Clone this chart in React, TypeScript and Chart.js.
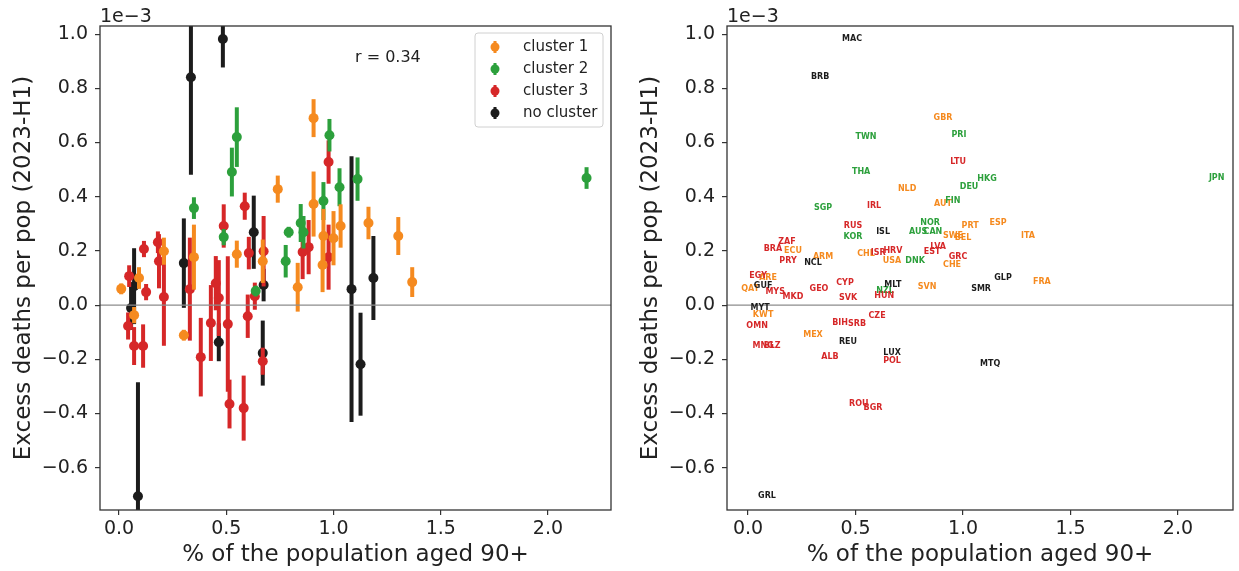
import React, { useEffect, useRef } from "react";
import { Chart, registerables } from "chart.js";

Chart.register(...registerables);

// ---------------- data (y in units of 1e-3) ----------------
const clusterNames = ["cluster 1", "cluster 2", "cluster 3", "no cluster"];
const clusterColors = ["#f58a1f", "#2ca03c", "#d62728", "#1c1c1c"];

const c1Codes = ["GBR", "NLD", "AUT", "PRT", "ESP", "ITA", "SWE", "BEL", "ECU", "CHL", "ARM", "USA", "CHE", "ARE", "QAT", "SVN", "FRA", "KWT", "MEX"];
const c1X = [0.907, 0.74, 0.907, 1.033, 1.163, 1.302, 0.953, 1.0, 0.209, 0.549, 0.349, 0.67, 0.949, 0.093, 0.01, 0.833, 1.367, 0.07, 0.302];
const c1Y = [0.69, 0.428, 0.373, 0.292, 0.303, 0.255, 0.255, 0.247, 0.199, 0.188, 0.177, 0.162, 0.148, 0.1, 0.06, 0.066, 0.085, -0.037, -0.111];
const c1Err = [0.07, 0.05, 0.12, 0.08, 0.06, 0.07, 0.1, 0.1, 0.05, 0.05, 0.12, 0.08, 0.1, 0.04, 0.02, 0.09, 0.055, 0.03, 0.02];

const c2Codes = ["TWN", "PRI", "THA", "HKG", "DEU", "FIN", "SGP", "NOR", "AUS", "CAN", "KOR", "DNK", "NZL", "JPN"];
const c2X = [0.549, 0.981, 0.526, 1.112, 1.028, 0.953, 0.349, 0.847, 0.791, 0.86, 0.488, 0.777, 0.637, 2.18];
const c2Y = [0.62, 0.627, 0.491, 0.465, 0.435, 0.384, 0.358, 0.303, 0.269, 0.269, 0.251, 0.162, 0.052, 0.469];
const c2Err = [0.11, 0.06, 0.09, 0.08, 0.07, 0.07, 0.04, 0.07, 0.02, 0.06, 0.03, 0.06, 0.02, 0.04];

const c3Codes = ["LTU", "IRL", "RUS", "ZAF", "BRA", "HRV", "ISR", "LVA", "EST", "PRY", "GRC", "EGY", "MYS", "MKD", "GEO", "CYP", "SVK", "HUN", "OMN", "BIH", "SRB", "CZE", "MNG", "BLZ", "ALB", "POL", "ROU", "BGR"];
const c3X = [0.977, 0.586, 0.488, 0.181, 0.116, 0.674, 0.605, 0.884, 0.856, 0.186, 0.977, 0.047, 0.126, 0.209, 0.33, 0.451, 0.465, 0.633, 0.042, 0.428, 0.507, 0.6, 0.07, 0.112, 0.381, 0.67, 0.515, 0.581];
const c3Y = [0.528, 0.365, 0.292, 0.232, 0.207, 0.199, 0.192, 0.214, 0.196, 0.162, 0.177, 0.107, 0.048, 0.03, 0.059, 0.081, 0.026, 0.033, -0.077, -0.066, -0.07, -0.041, -0.151, -0.151, -0.192, -0.207, -0.365, -0.38];
const c3Err = [0.08, 0.05, 0.08, 0.04, 0.03, 0.13, 0.06, 0.1, 0.1, 0.1, 0.12, 0.04, 0.03, 0.18, 0.19, 0.1, 0.14, 0.05, 0.05, 0.14, 0.25, 0.08, 0.07, 0.08, 0.145, 0.05, 0.09, 0.12];

const ncCodes = ["MAC", "BRB", "ISL", "NCL", "GUF", "MLT", "SMR", "GLP", "MYT", "REU", "LUX", "MTQ", "GRL"];
const ncX = [0.484, 0.335, 0.628, 0.302, 0.07, 0.674, 1.084, 1.186, 0.056, 0.465, 0.67, 1.126, 0.088];
const ncY = [0.982, 0.841, 0.269, 0.155, 0.07, 0.074, 0.059, 0.1, -0.011, -0.137, -0.177, -0.218, -0.705];
const ncErr = [0.105, 0.36, 0.135, 0.165, 0.14, 0.06, 0.49, 0.155, 0.08, 0.07, 0.12, 0.19, 0.42];

const xTicks = [0, 0.5, 1.0, 1.5, 2.0];
const yTicks = [-0.6, -0.4, -0.2, 0, 0.2, 0.4, 0.6, 0.8, 1.0];
const offsetText = "1e\u22123";
const correlationText = "r = 0.34";
const xTitle = "% of the population aged 90+";
const yTitle = "Excess deaths per pop (2023-H1)";

const groups = [
  { codes: c1Codes, x: c1X, y: c1Y, err: c1Err },
  { codes: c2Codes, x: c2X, y: c2Y, err: c2Err },
  { codes: c3Codes, x: c3X, y: c3Y, err: c3Err },
  { codes: ncCodes, x: ncX, y: ncY, err: ncErr },
];

const FONT = "'DejaVu Sans', sans-serif";
const TEXT = "#222222";

const fmt = (v: number) => {
  const s = Number(v).toFixed(1);
  return s.startsWith("-") ? "\u2212" + s.slice(1) : s;
};

function makeDatasets(radius: number) {
  return groups.map((g, i) => ({
    label: clusterNames[i],
    data: g.x.map((x, j) => ({ x, y: g.y[j], err: g.err[j], code: g.codes[j] })),
    backgroundColor: clusterColors[i],
    borderColor: clusterColors[i],
    borderWidth: 0,
    pointRadius: radius,
    pointHoverRadius: radius,
  }));
}

function scales(xmin: number, xmax: number, yWidth: number) {
  const tickFont = { family: FONT, size: 19 };
  const grid = { drawOnChartArea: false, drawTicks: true, tickLength: 5, color: "#333", lineWidth: 1.2 };
  return {
    x: {
      type: "linear" as const,
      min: xmin,
      max: xmax,
      afterBuildTicks: (a: any) => { a.ticks = xTicks.map((v) => ({ value: v })); },
      afterFit: (s: any) => { s.height = 61; },
      ticks: { font: tickFont, color: TEXT, padding: 3, maxRotation: 0, autoSkip: false, callback: (v: any) => fmt(v) },
      grid,
      border: { display: false },
    },
    y: {
      type: "linear" as const,
      min: -0.756,
      max: 1.03,
      afterBuildTicks: (a: any) => { a.ticks = yTicks.map((v) => ({ value: v })); },
      afterFit: (s: any) => { s.width = yWidth; },
      ticks: { font: tickFont, color: TEXT, padding: 7, autoSkip: false, callback: (v: any) => fmt(v) },
      grid,
      border: { display: false },
    },
  };
}

function drawCommon(chart: any) {
  const { ctx, chartArea: a } = chart;
  ctx.save();
  ctx.strokeStyle = "#333";
  ctx.lineWidth = 1.3;
  ctx.strokeRect(a.left, a.top, a.right - a.left, a.bottom - a.top);
  ctx.fillStyle = TEXT;
  ctx.font = `19px ${FONT}`;
  ctx.textAlign = "left";
  ctx.textBaseline = "alphabetic";
  ctx.fillText(offsetText, a.left, 22);
  ctx.font = `23px ${FONT}`;
  ctx.textAlign = "center";
  ctx.fillText(xTitle, (a.left + a.right) / 2, 561);
  ctx.translate(a.left - 70, (a.top + a.bottom) / 2);
  ctx.rotate(-Math.PI / 2);
  ctx.fillText(yTitle, 0, 0);
  ctx.restore();
}

function drawZero(chart: any) {
  const { ctx, chartArea: a, scales: s } = chart;
  const y0 = s.y.getPixelForValue(0);
  ctx.save();
  ctx.strokeStyle = "#8c8c8c";
  ctx.lineWidth = 1.4;
  ctx.beginPath();
  ctx.moveTo(a.left, y0);
  ctx.lineTo(a.right, y0);
  ctx.stroke();
  ctx.restore();
}

const leftPlugin = {
  id: "leftPlugin",
  beforeDatasetDraw(chart: any, args: any) {
    const { ctx, chartArea: a, scales: s } = chart;
    const ds = chart.data.datasets[args.index];
    ctx.save();
    ctx.beginPath();
    ctx.rect(a.left, a.top, a.right - a.left, a.bottom - a.top);
    ctx.clip();
    ctx.strokeStyle = ds.borderColor;
    ctx.lineWidth = 4;
    ds.data.forEach((p: any) => {
      const px = s.x.getPixelForValue(p.x);
      ctx.beginPath();
      ctx.moveTo(px, s.y.getPixelForValue(p.y - p.err));
      ctx.lineTo(px, s.y.getPixelForValue(p.y + p.err));
      ctx.stroke();
    });
    ctx.restore();
  },
  afterDatasetsDraw(chart: any) {
    drawZero(chart);
  },
  afterDraw(chart: any) {
    const { ctx } = chart;
    drawCommon(chart);
    ctx.save();
    ctx.fillStyle = TEXT;
    ctx.font = `16px ${FONT}`;
    ctx.textAlign = "left";
    ctx.textBaseline = "alphabetic";
    ctx.fillText(correlationText, 355, 62);
    const bx = 475, by = 33, bw = 128, bh = 94, r = 3;
    ctx.fillStyle = "rgba(255,255,255,0.85)";
    ctx.strokeStyle = "#d0d0d0";
    ctx.lineWidth = 1;
    ctx.beginPath();
    ctx.moveTo(bx + r, by);
    ctx.arcTo(bx + bw, by, bx + bw, by + bh, r);
    ctx.arcTo(bx + bw, by + bh, bx, by + bh, r);
    ctx.arcTo(bx, by + bh, bx, by, r);
    ctx.arcTo(bx, by, bx + bw, by, r);
    ctx.closePath();
    ctx.fill();
    ctx.stroke();
    clusterNames.forEach((name, i) => {
      const y = 47 + i * 22;
      ctx.strokeStyle = clusterColors[i];
      ctx.fillStyle = clusterColors[i];
      ctx.lineWidth = 3;
      ctx.beginPath();
      ctx.moveTo(495, y - 6);
      ctx.lineTo(495, y + 6);
      ctx.stroke();
      ctx.beginPath();
      ctx.arc(495, y, 4.5, 0, Math.PI * 2);
      ctx.fill();
      ctx.fillStyle = TEXT;
      ctx.font = `15px ${FONT}`;
      ctx.textBaseline = "middle";
      ctx.fillText(name, 523, y);
    });
    ctx.restore();
  },
};

const rightPlugin = {
  id: "rightPlugin",
  beforeDatasetsDraw(chart: any) {
    drawZero(chart);
  },
  afterDatasetsDraw(chart: any) {
    const { ctx, scales: s } = chart;
    ctx.save();
    ctx.font = `bold 8px ${FONT}`;
    ctx.textAlign = "center";
    ctx.textBaseline = "middle";
    chart.data.datasets.forEach((ds: any) => {
      ctx.fillStyle = ds.borderColor;
      ds.data.forEach((p: any) => {
        ctx.fillText(p.code, s.x.getPixelForValue(p.x), s.y.getPixelForValue(p.y));
      });
    });
    ctx.restore();
  },
  afterDraw(chart: any) {
    drawCommon(chart);
  },
};

export default function App() {
  const leftRef = useRef<HTMLCanvasElement | null>(null);
  const rightRef = useRef<HTMLCanvasElement | null>(null);

  useEffect(() => {
    const common = {
      animation: false as const,
      responsive: false,
      devicePixelRatio: 1,
      events: [] as any[],
      plugins: { legend: { display: false }, tooltip: { enabled: false } },
    };
    const left = new Chart(leftRef.current!, {
      type: "scatter",
      data: { datasets: makeDatasets(5) as any },
      options: {
        ...common,
        layout: { padding: { top: 26, right: 9, left: 0, bottom: 0 } },
        scales: scales(-0.089, 2.294, 100) as any,
      } as any,
      plugins: [leftPlugin],
    });
    const right = new Chart(rightRef.current!, {
      type: "scatter",
      data: { datasets: makeDatasets(0) as any },
      options: {
        ...common,
        layout: { padding: { top: 26, right: 6, left: 0, bottom: 0 } },
        scales: scales(-0.098, 2.256, 107) as any,
      } as any,
      plugins: [rightPlugin],
    });
    return () => {
      left.destroy();
      right.destroy();
    };
  }, []);

  return (
    <div style={{ position: "absolute", left: 0, top: 0, width: 1239, height: 571, background: "#fff" }}>
      <canvas ref={leftRef} width={620} height={571} style={{ position: "absolute", left: 0, top: 0, width: 620, height: 571 }} />
      <canvas ref={rightRef} width={619} height={571} style={{ position: "absolute", left: 620, top: 0, width: 619, height: 571 }} />
    </div>
  );
}
